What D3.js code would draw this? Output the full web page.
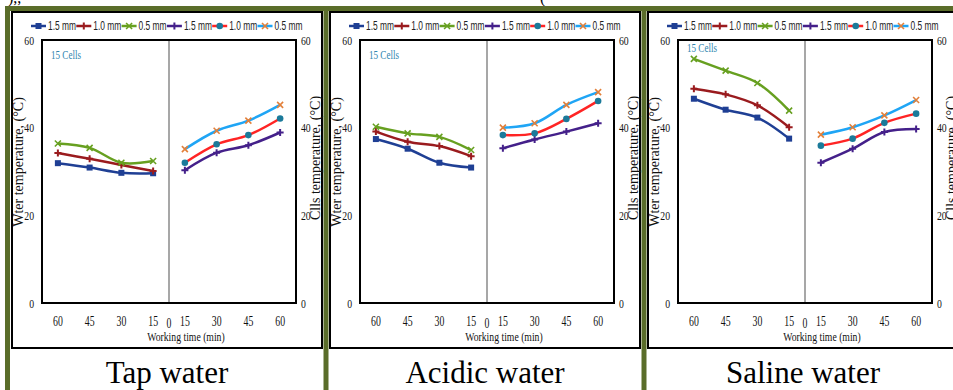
<!DOCTYPE html>
<html>
<head>
<meta charset="utf-8">
<script src="https://cdn.jsdelivr.net/npm/d3@7"></script>
<style>
  body { margin: 0; background: #fff; }
  svg { display: block; }
</style>
</head>
<body>
<svg id="fig" width="953" height="390"></svg>
<script>
// captions of the three panels
const panelNames = ["Tap water", "Acidic water", "Saline water"];
// left half: water temperature vs time (reversed), right half: cells temperature
const timeLeft = ["60", "45", "30", "15"];
const timeRight = ["15", "30", "45", "60"];
const seriesNames = ["1.5 mm", "1.0 mm", "0.5 mm", "1.5 mm", "1.0 mm", "0.5 mm"];
const yTicks = [0, 20, 40, 60];

// water: 1.5, 1.0, 0.5 mm  then cells: 1.5, 1.0, 0.5 mm
const tapWater = [
  [31.9, 30.9, 29.7, 29.6],
  [34.2, 32.9, 31.5, 30.1],
  [36.4, 35.4, 32.0, 32.4],
  [30.3, 34.3, 36.0, 38.9],
  [32.0, 36.2, 38.3, 42.1],
  [35.1, 39.3, 41.6, 45.2]
];
const acidicWater = [
  [37.4, 35.2, 32.0, 30.9],
  [39.1, 36.8, 35.8, 33.5],
  [40.2, 38.7, 37.9, 34.9],
  [35.3, 37.3, 39.1, 41.0],
  [38.3, 38.7, 42.0, 46.1],
  [40.0, 41.0, 45.2, 48.1]
];
const salineWater = [
  [46.6, 44.1, 42.3, 37.5],
  [48.9, 47.6, 45.1, 40.1],
  [55.7, 53.0, 50.2, 43.9],
  [32.0, 35.2, 39.0, 39.7],
  [35.9, 37.5, 41.1, 43.2],
  [38.4, 40.1, 42.8, 46.3]
];
const panelData = [tapWater, acidicWater, salineWater];

const lineColors = ["#1f3f94", "#9a1b1e", "#67a020", "#44208a", "#ff2424", "#1fa5f5"];
const markerColors = ["#1f3f94", "#9a1b1e", "#67a020", "#44208a", "#1b7a9a", "#e3803a"];
const markerTypes = ["square", "plus", "x", "plus", "circle", "x"];
const olive = "#5a6d2a";

const svg = d3.select("#fig");

// cut-off line of text at the very top
svg.append("text").attr("x", 8).attr("y", 3)
  .attr("font-family", "Liberation Serif").attr("font-size", 16)
  .text("),,");
svg.append("text").attr("x", 540).attr("y", 3)
  .attr("font-family", "Liberation Serif").attr("font-size", 16)
  .text("(");

// table borders
svg.append("rect").attr("x", 5).attr("y", 6).attr("width", 948).attr("height", 5).attr("fill", olive);
[5, 323.5, 641.5].forEach(x => {
  svg.append("rect").attr("x", x).attr("y", 6).attr("width", 5).attr("height", 384).attr("fill", olive);
});

const cellX = [12, 330, 648];
const plot = { dx: 30, top: 40, width: 254, height: 263 };

const xKeys = timeLeft.map(t => "L" + t).concat(timeRight.map(t => "R" + t));

function drawMarker(g, type, color) {
  if (type === "square") {
    g.append("rect").attr("x", -3).attr("y", -3).attr("width", 6).attr("height", 6).attr("fill", color);
  } else if (type === "circle") {
    g.append("circle").attr("r", 3.3).attr("fill", color);
  } else if (type === "plus") {
    g.append("path").attr("d", "M-3.5,0H3.5M0,-3.5V3.5").attr("stroke", color).attr("stroke-width", 2);
  } else {
    g.append("path").attr("d", "M-3,-3L3,3M-3,3L3,-3").attr("stroke", color).attr("stroke-width", 1.6);
  }
}

function condensedText(parent, x, y, str, opts) {
  const g = parent.append("g").attr("transform", `translate(${x},${y}) scale(${opts.sx || 0.75},1)`);
  return g.append("text")
    .attr("text-anchor", opts.anchor || "start")
    .attr("font-family", opts.family || "Liberation Serif")
    .attr("font-size", opts.size)
    .attr("fill", opts.fill || "#111")
    .text(str);
}

panelNames.forEach((name, p) => {
  const cx = cellX[p];
  const px = cx + plot.dx;
  const data = panelData[p];
  const cell = svg.append("g");

  // chart image frame
  cell.append("rect").attr("x", cx).attr("y", 12).attr("width", 310).attr("height", 336)
    .attr("fill", "#fff").attr("stroke", "#000").attr("stroke-width", 2);

  const x = d3.scaleBand().domain(xKeys).range([px, px + plot.width]);
  const y = d3.scaleLinear().domain([0, 60]).range([plot.top + plot.height, plot.top]);
  const midX = px + plot.width / 2;

  // divider between water and cells halves
  cell.append("line").attr("x1", midX).attr("x2", midX).attr("y1", plot.top).attr("y2", plot.top + plot.height)
    .attr("stroke", "#8a8a8a").attr("stroke-width", 1.5);

  // plot frame
  cell.append("rect").attr("x", px).attr("y", plot.top).attr("width", plot.width).attr("height", plot.height)
    .attr("fill", "none").attr("stroke", "#000").attr("stroke-width", 2);

  // y axes (labels only, like the original)
  const yl = cell.append("g").attr("transform", `translate(${px},0)`)
    .call(d3.axisLeft(y).tickValues(yTicks).tickSize(0).tickPadding(8));
  const yr = cell.append("g").attr("transform", `translate(${px + plot.width},0)`)
    .call(d3.axisRight(y).tickValues(yTicks).tickSize(0).tickPadding(5));
  [yl, yr].forEach(a => {
    a.select(".domain").remove();
    a.selectAll("text").attr("font-family", "Liberation Serif").attr("font-size", 13)
      .attr("fill", "#111").attr("transform", "scale(0.75,1)")
      .attr("x", function() { return +d3.select(this).attr("x") / 0.75; });
  });

  // x axis
  const xa = cell.append("g").attr("transform", `translate(0,${plot.top + plot.height})`)
    .call(d3.axisBottom(x).tickSize(0).tickPadding(13).tickFormat(k => k.slice(1)));
  xa.select(".domain").remove();
  xa.selectAll(".tick text").attr("font-family", "Liberation Serif").attr("font-size", 14).attr("fill", "#111")
    .attr("transform", "scale(0.7,1)");
  xa.selectAll(".tick").each(function() {
    const t = d3.select(this);
    const tr = t.attr("transform").match(/translate\(([-\d.]+)/);
    t.attr("transform", `translate(${tr[1]},0)`);
  });
  condensedText(cell, midX, plot.top + plot.height + 25, "0", { size: 14, anchor: "middle", sx: 0.7 });
  condensedText(cell, midX + 17, 341, "Working time (min)", { size: 13.5, anchor: "middle", sx: 0.72 });

  // axis titles
  cell.append("text").attr("transform", `translate(${cx + 11},${162}) rotate(-90)`)
    .attr("text-anchor", "middle").attr("font-family", "Liberation Serif").attr("font-size", 14)
    .attr("fill", "#111").text("Wter temperature, (°C)");
  cell.append("text").attr("transform", `translate(${px + plot.width + 24},${158}) rotate(-90)`)
    .attr("text-anchor", "middle").attr("font-family", "Liberation Serif").attr("font-size", 14)
    .attr("fill", "#111").text("Clls temperature, (°C)");

  condensedText(cell, px + 9, p === 2 ? 52 : 59, "15 Cells", { size: 13, fill: "#2f86b0", sx: 0.7 });

  // series
  const line = d3.line().x(d => x(d.k) + x.bandwidth() / 2).y(d => y(d.v)).curve(d3.curveCatmullRom.alpha(0.5));
  data.forEach((vals, s) => {
    const keys = s < 3 ? timeLeft.map(t => "L" + t) : timeRight.map(t => "R" + t);
    const pts = vals.map((v, i) => ({ k: keys[i], v: v }));
    cell.append("path").datum(pts).attr("d", line).attr("fill", "none")
      .attr("stroke", lineColors[s]).attr("stroke-width", 2.5);
    pts.forEach(d => {
      const g = cell.append("g").attr("transform", `translate(${x(d.k) + x.bandwidth() / 2},${y(d.v)})`);
      drawMarker(g, markerTypes[s], markerColors[s]);
    });
  });

  // legend
  seriesNames.forEach((n, s) => {
    const lx = cx + 19 + s * 45.3;
    cell.append("line").attr("x1", lx).attr("x2", lx + 15).attr("y1", 26).attr("y2", 26)
      .attr("stroke", lineColors[s]).attr("stroke-width", 2.5);
    const g = cell.append("g").attr("transform", `translate(${lx + 7.5},26)`);
    drawMarker(g, markerTypes[s], markerColors[s]);
    condensedText(cell, lx + 17, 30, n, { size: 12, family: "Liberation Sans", sx: 0.7, fill: "#222" });
  });

  // caption
  cell.append("text").attr("x", cx + 155).attr("y", 383).attr("text-anchor", "middle")
    .attr("font-family", "Liberation Serif").attr("font-size", 31).attr("fill", "#000").text(name);
});
</script>
</body>
</html>
